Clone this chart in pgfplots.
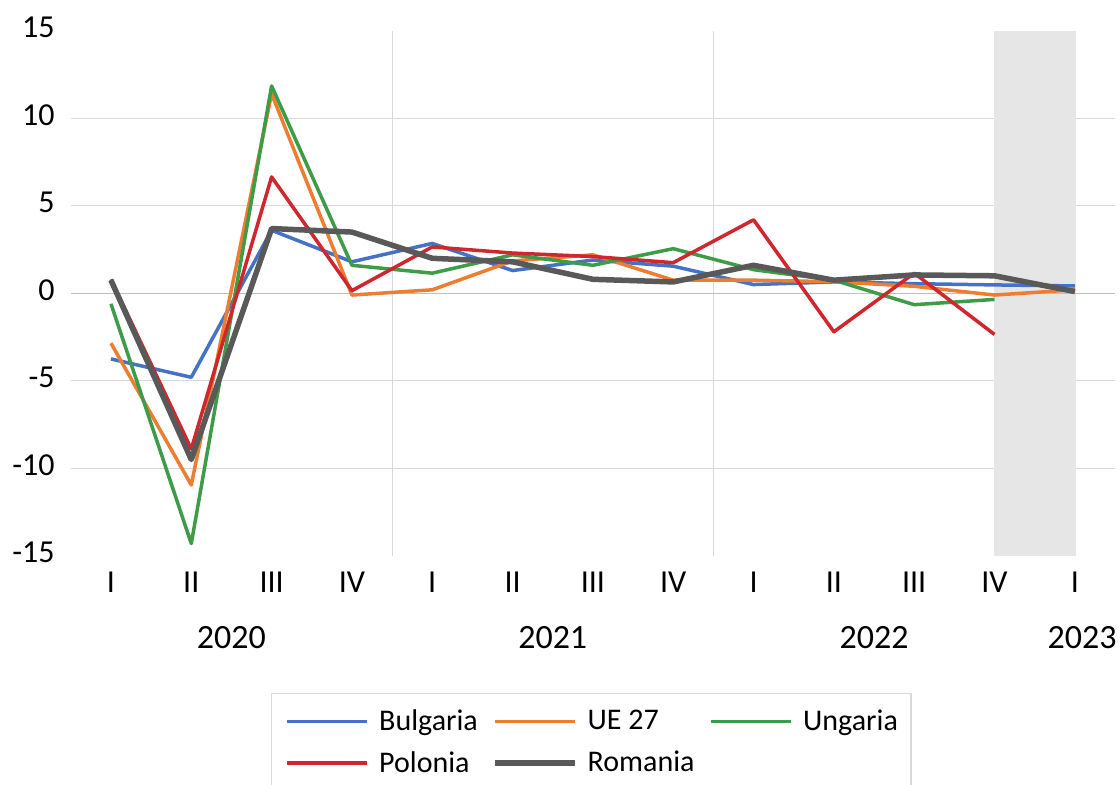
\documentclass[border=0pt]{standalone}
\usepackage{pgfplots}
\pgfplotsset{compat=1.18}
\usepackage{fontspec}
\setmainfont{Carlito}
\definecolor{cBlue}{HTML}{4472C4}
\definecolor{cOrange}{HTML}{ED7D31}
\definecolor{cGreen}{HTML}{3E9B48}
\definecolor{cRed}{HTML}{D0262D}
\definecolor{cGray}{HTML}{595959}
\definecolor{gridc}{HTML}{D9D9D9}
\definecolor{zeroc}{HTML}{BFBFBF}
\definecolor{shadec}{HTML}{E6E6E6}
\begin{document}
\begin{tikzpicture}
\path[use as bounding box] (0,0) rectangle (560pt,392pt);
\begin{axis}[
  at={(35.4pt,114.1pt)}, anchor=south west,
  scale only axis, width=522.1pt, height=262.5pt,
  xmin=-0.5, xmax=12.5, ymin=-15, ymax=15,
  clip=false,
  axis line style={draw=none},
  major tick length=0pt, minor tick length=0pt,
  xtick={0,1,2,3,4,5,6,7,8,9,10,11,12},
  xticklabels={I,II,III,IV,I,II,III,IV,I,II,III,IV,I},
  minor xtick={3.5,7.5,11.5},
  xminorgrids,
  minor grid style={draw=gridc, line width=0.5pt},
  ytick={-15,-10,-5,0,5,10,15},
  yticklabels={-15,-10,-5,0,5,10,15},
  ticklabel style={font=\fontsize{16}{19}\selectfont, text=black},
  xticklabel style={anchor=north, inner sep=0pt, yshift=-7.95pt},
  yticklabel style={anchor=east, inner sep=0pt, xshift=-7.9pt, yshift=1.5pt},
  legend columns=3,
  legend cell align=left,
  legend image code/.code={\draw[#1] (0pt,0pt) -- (40pt,0pt);},
  legend style={at={(0.1917,-0.2613)}, anchor=north west, draw=gridc, line width=0.75pt,
    inner xsep=7pt, inner ysep=6pt, font=\fontsize{15}{18}\selectfont,
    column sep=0pt, row sep=4.8pt, nodes={inner xsep=0pt}},
  every axis plot/.append style={line join=round, no markers},
]
\draw[gridc, line width=0.5pt] (axis cs:-0.5,10) -- (axis cs:12.5,10);
\draw[gridc, line width=0.5pt] (axis cs:-0.5,5) -- (axis cs:12.5,5);
\draw[gridc, line width=0.5pt] (axis cs:-0.5,-5) -- (axis cs:12.5,-5);
\draw[gridc, line width=0.5pt] (axis cs:-0.5,-10) -- (axis cs:12.5,-10);
\fill[shadec] (axis cs:10.99,-15) rectangle (axis cs:12.02,15);
\draw[zeroc, line width=0.75pt] (axis cs:-0.5,0) -- (axis cs:12.5,0);

\addplot[cBlue, line width=1.75pt] coordinates {
(0,-3.75) (1,-4.8) (2,3.6) (3,1.8) (4,2.85) (5,1.3) (6,1.9) (7,1.55) (8,0.5) (9,0.65) (10,0.55) (11,0.48) (12,0.42)};
\addlegendentry{\hspace{5pt}\makebox[56.5pt][l]{Bulgaria}}
\addplot[cOrange, line width=1.75pt] coordinates {
(0,-2.85) (1,-10.95) (2,11.4) (3,-0.1) (4,0.2) (5,1.85) (6,2.2) (7,0.75) (8,0.75) (9,0.66) (10,0.4) (11,-0.1) (12,0.2)};
\addlegendentry{\hspace{5pt}\makebox[61pt][l]{UE 27}}
\addplot[cGreen, line width=1.75pt] coordinates {
(0,-0.6) (1,-14.3) (2,11.85) (3,1.6) (4,1.15) (5,2.2) (6,1.6) (7,2.55) (8,1.35) (9,0.75) (10,-0.65) (11,-0.35)};
\addlegendentry{\hspace{5pt}\makebox[47pt][l]{Ungaria}}
\addplot[cRed, line width=1.75pt] coordinates {
(0,0.8) (1,-8.9) (2,6.65) (3,0.15) (4,2.65) (5,2.3) (6,2.1) (7,1.75) (8,4.2) (9,-2.2) (10,1.15) (11,-2.35)};
\addlegendentry{\hspace{5pt}\makebox[56.5pt][l]{Polonia}}
\addplot[cGray, line width=2.75pt] coordinates {
(0,0.75) (1,-9.5) (2,3.7) (3,3.5) (4,2.0) (5,1.8) (6,0.8) (7,0.65) (8,1.6) (9,0.75) (10,1.05) (11,1.0) (12,0.1)};
\addlegendentry{\hspace{5pt}\makebox[61pt][l]{Romania}}

\node[anchor=north, inner sep=0pt, font=\fontsize{17}{20}\selectfont, yshift=-35.1pt] at (axis cs:1.5,-15) {2020};
\node[anchor=north, inner sep=0pt, font=\fontsize{17}{20}\selectfont, yshift=-35.1pt] at (axis cs:5.5,-15) {2021};
\node[anchor=north, inner sep=0pt, font=\fontsize{17}{20}\selectfont, yshift=-35.1pt] at (axis cs:9.5,-15) {2022};
\node[anchor=north, inner sep=0pt, font=\fontsize{17}{20}\selectfont, yshift=-35.1pt] at (axis cs:12.09,-15) {2023};
\end{axis}
\end{tikzpicture}
\end{document}
